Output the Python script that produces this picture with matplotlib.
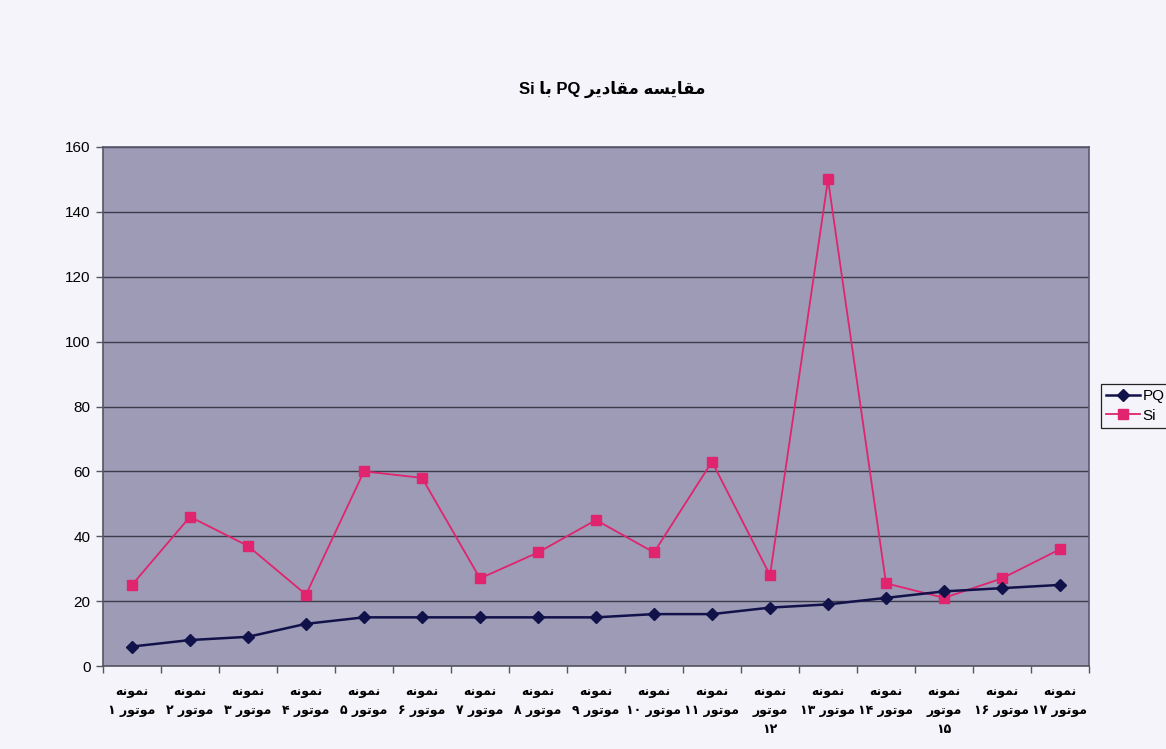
import numpy as np
import matplotlib
matplotlib.use("Agg")
import matplotlib.pyplot as plt
from matplotlib.lines import Line2D

# ---- data -------------------------------------------------------------
title_text = "مقایسه مقادیر PQ با Si"

categories = [
    "نمونه\nموتور ۱", "نمونه\nموتور ۲", "نمونه\nموتور ۳", "نمونه\nموتور ۴",
    "نمونه\nموتور ۵", "نمونه\nموتور ۶", "نمونه\nموتور ۷", "نمونه\nموتور ۸",
    "نمونه\nموتور ۹", "نمونه\nموتور ۱۰", "نمونه\nموتور ۱۱", "نمونه\nموتور\n۱۲",
    "نمونه\nموتور ۱۳", "نمونه\nموتور ۱۴", "نمونه\nموتور\n۱۵", "نمونه\nموتور ۱۶",
    "نمونه\nموتور ۱۷",
]

pq_values = [6, 8, 9, 13, 15, 15, 15, 15, 15, 16, 16, 18, 19, 21, 23, 24, 25]
si_values = [25, 46, 37, 22, 60, 58, 27, 35, 45, 35, 63, 28, 150, 25.5, 21, 27, 36]

y_ticks = [0, 20, 40, 60, 80, 100, 120, 140, 160]

# ---- Arabic-script shaping (presentation forms + visual order) --------
# (isolated, final, initial, medial)
FORMS = {
    'ا': ('\uFE8D', '\uFE8E', None, None),
    'ب': ('\uFE8F', '\uFE90', '\uFE91', '\uFE92'),
    'ت': ('\uFE95', '\uFE96', '\uFE97', '\uFE98'),
    'د': ('\uFEA9', '\uFEAA', None, None),
    'ر': ('\uFEAD', '\uFEAE', None, None),
    'س': ('\uFEB1', '\uFEB2', '\uFEB3', '\uFEB4'),
    'ق': ('\uFED5', '\uFED6', '\uFED7', '\uFED8'),
    'م': ('\uFEE1', '\uFEE2', '\uFEE3', '\uFEE4'),
    'ن': ('\uFEE5', '\uFEE6', '\uFEE7', '\uFEE8'),
    'ه': ('\uFEE9', '\uFEEA', '\uFEEB', '\uFEEC'),
    'و': ('\uFEED', '\uFEEE', None, None),
    'ی': ('\uFBFC', '\uFBFD', '\uFBFE', '\uFBFF'),
}


def shape_word(word):
    out = []
    for i, ch in enumerate(word):
        if ch not in FORMS:
            out.append(ch)
            continue
        prev = word[i - 1] if i > 0 else None
        nxt = word[i + 1] if i + 1 < len(word) else None
        join_prev = prev in FORMS and FORMS[prev][2] is not None
        join_next = FORMS[ch][2] is not None and nxt in FORMS
        iso, fin, ini, med = FORMS[ch]
        if join_prev and join_next:
            out.append(med)
        elif join_prev:
            out.append(fin)
        elif join_next:
            out.append(ini)
        else:
            out.append(iso)
    return ''.join(out)


def rtl_line(line):
    tokens = []
    for tok in line.split(' '):
        if any(c in FORMS for c in tok):
            tokens.append(shape_word(tok)[::-1])
        else:
            tokens.append(tok)
    return ' '.join(reversed(tokens))


def rtl(text):
    return '\n'.join(rtl_line(l) for l in text.split('\n'))


# ---- figure -----------------------------------------------------------
fig_bg = "#f4f4fa"
plot_bg = "#9e9bb7"
grid_col = "#3c3b4a"
pq_col = "#12124a"
si_col = "#e0246e"

fig = plt.figure(figsize=(11.66, 7.49), dpi=100, facecolor=fig_bg)
ax = fig.add_axes([103 / 1166, 1 - 666 / 749, (1089 - 103) / 1166, (666 - 147) / 749])
ax.set_facecolor(plot_bg)

x = np.arange(len(categories))
ax.plot(x, pq_values, color=pq_col, lw=1.8, marker='D', ms=6.5,
        mfc=pq_col, mec=pq_col, label='PQ', zorder=4)
ax.plot(x, si_values, color=si_col, lw=1.3, marker='s', ms=6.5,
        mfc=si_col, mec=si_col, label='Si', zorder=3)

ax.set_xlim(-0.5, len(categories) - 0.5)
ax.set_ylim(0, 160)
ax.set_yticks(y_ticks)
ax.set_yticklabels([str(v) for v in y_ticks], fontsize=11, family='Liberation Sans')
ax.yaxis.grid(True, color=grid_col, lw=1.0)
ax.set_axisbelow(True)

ax.set_xticks(x)
ax.set_xticklabels([rtl(c) for c in categories], fontsize=9,
                   fontweight='bold', family='DejaVu Sans', linespacing=1.6,
                   va='top')
ax.set_xticks(np.arange(-0.5, len(categories), 1.0), minor=True)
ax.tick_params(axis='x', which='major', length=0, pad=14)
ax.tick_params(axis='x', which='minor', length=5, width=1, color='#555560', direction='out')
ax.tick_params(axis='y', length=5, width=1, color='#555560', direction='out', pad=4)

for side in ('left', 'bottom'):
    ax.spines[side].set_color('#555560')
    ax.spines[side].set_linewidth(1.2)
for side in ('top', 'right'):
    ax.spines[side].set_color('#5a5870')
    ax.spines[side].set_linewidth(1.2)

fig.text(0.525, 0.88, rtl(title_text), ha='center', va='center', fontsize=12,
         fontweight='bold', family=['Liberation Sans', 'DejaVu Sans'])

handles = [
    Line2D([], [], color=pq_col, lw=1.8, marker='D', ms=6.5, mfc=pq_col, mec=pq_col),
    Line2D([], [], color=si_col, lw=1.3, marker='s', ms=6.5, mfc=si_col, mec=si_col),
]
leg = fig.legend(handles, ['PQ', 'Si'], loc='center left',
                 bbox_to_anchor=(1101 / 1166, 1 - 406 / 749),
                 frameon=True, fancybox=False, framealpha=1, facecolor=fig_bg,
                 edgecolor='#222222', handlelength=2.2, borderpad=0.35,
                 borderaxespad=0, labelspacing=0.35, handletextpad=0.15,
                 prop={'family': 'Liberation Sans', 'size': 11})
leg.get_frame().set_linewidth(0.9)

fig.savefig("out.png", dpi=100, facecolor=fig_bg)
